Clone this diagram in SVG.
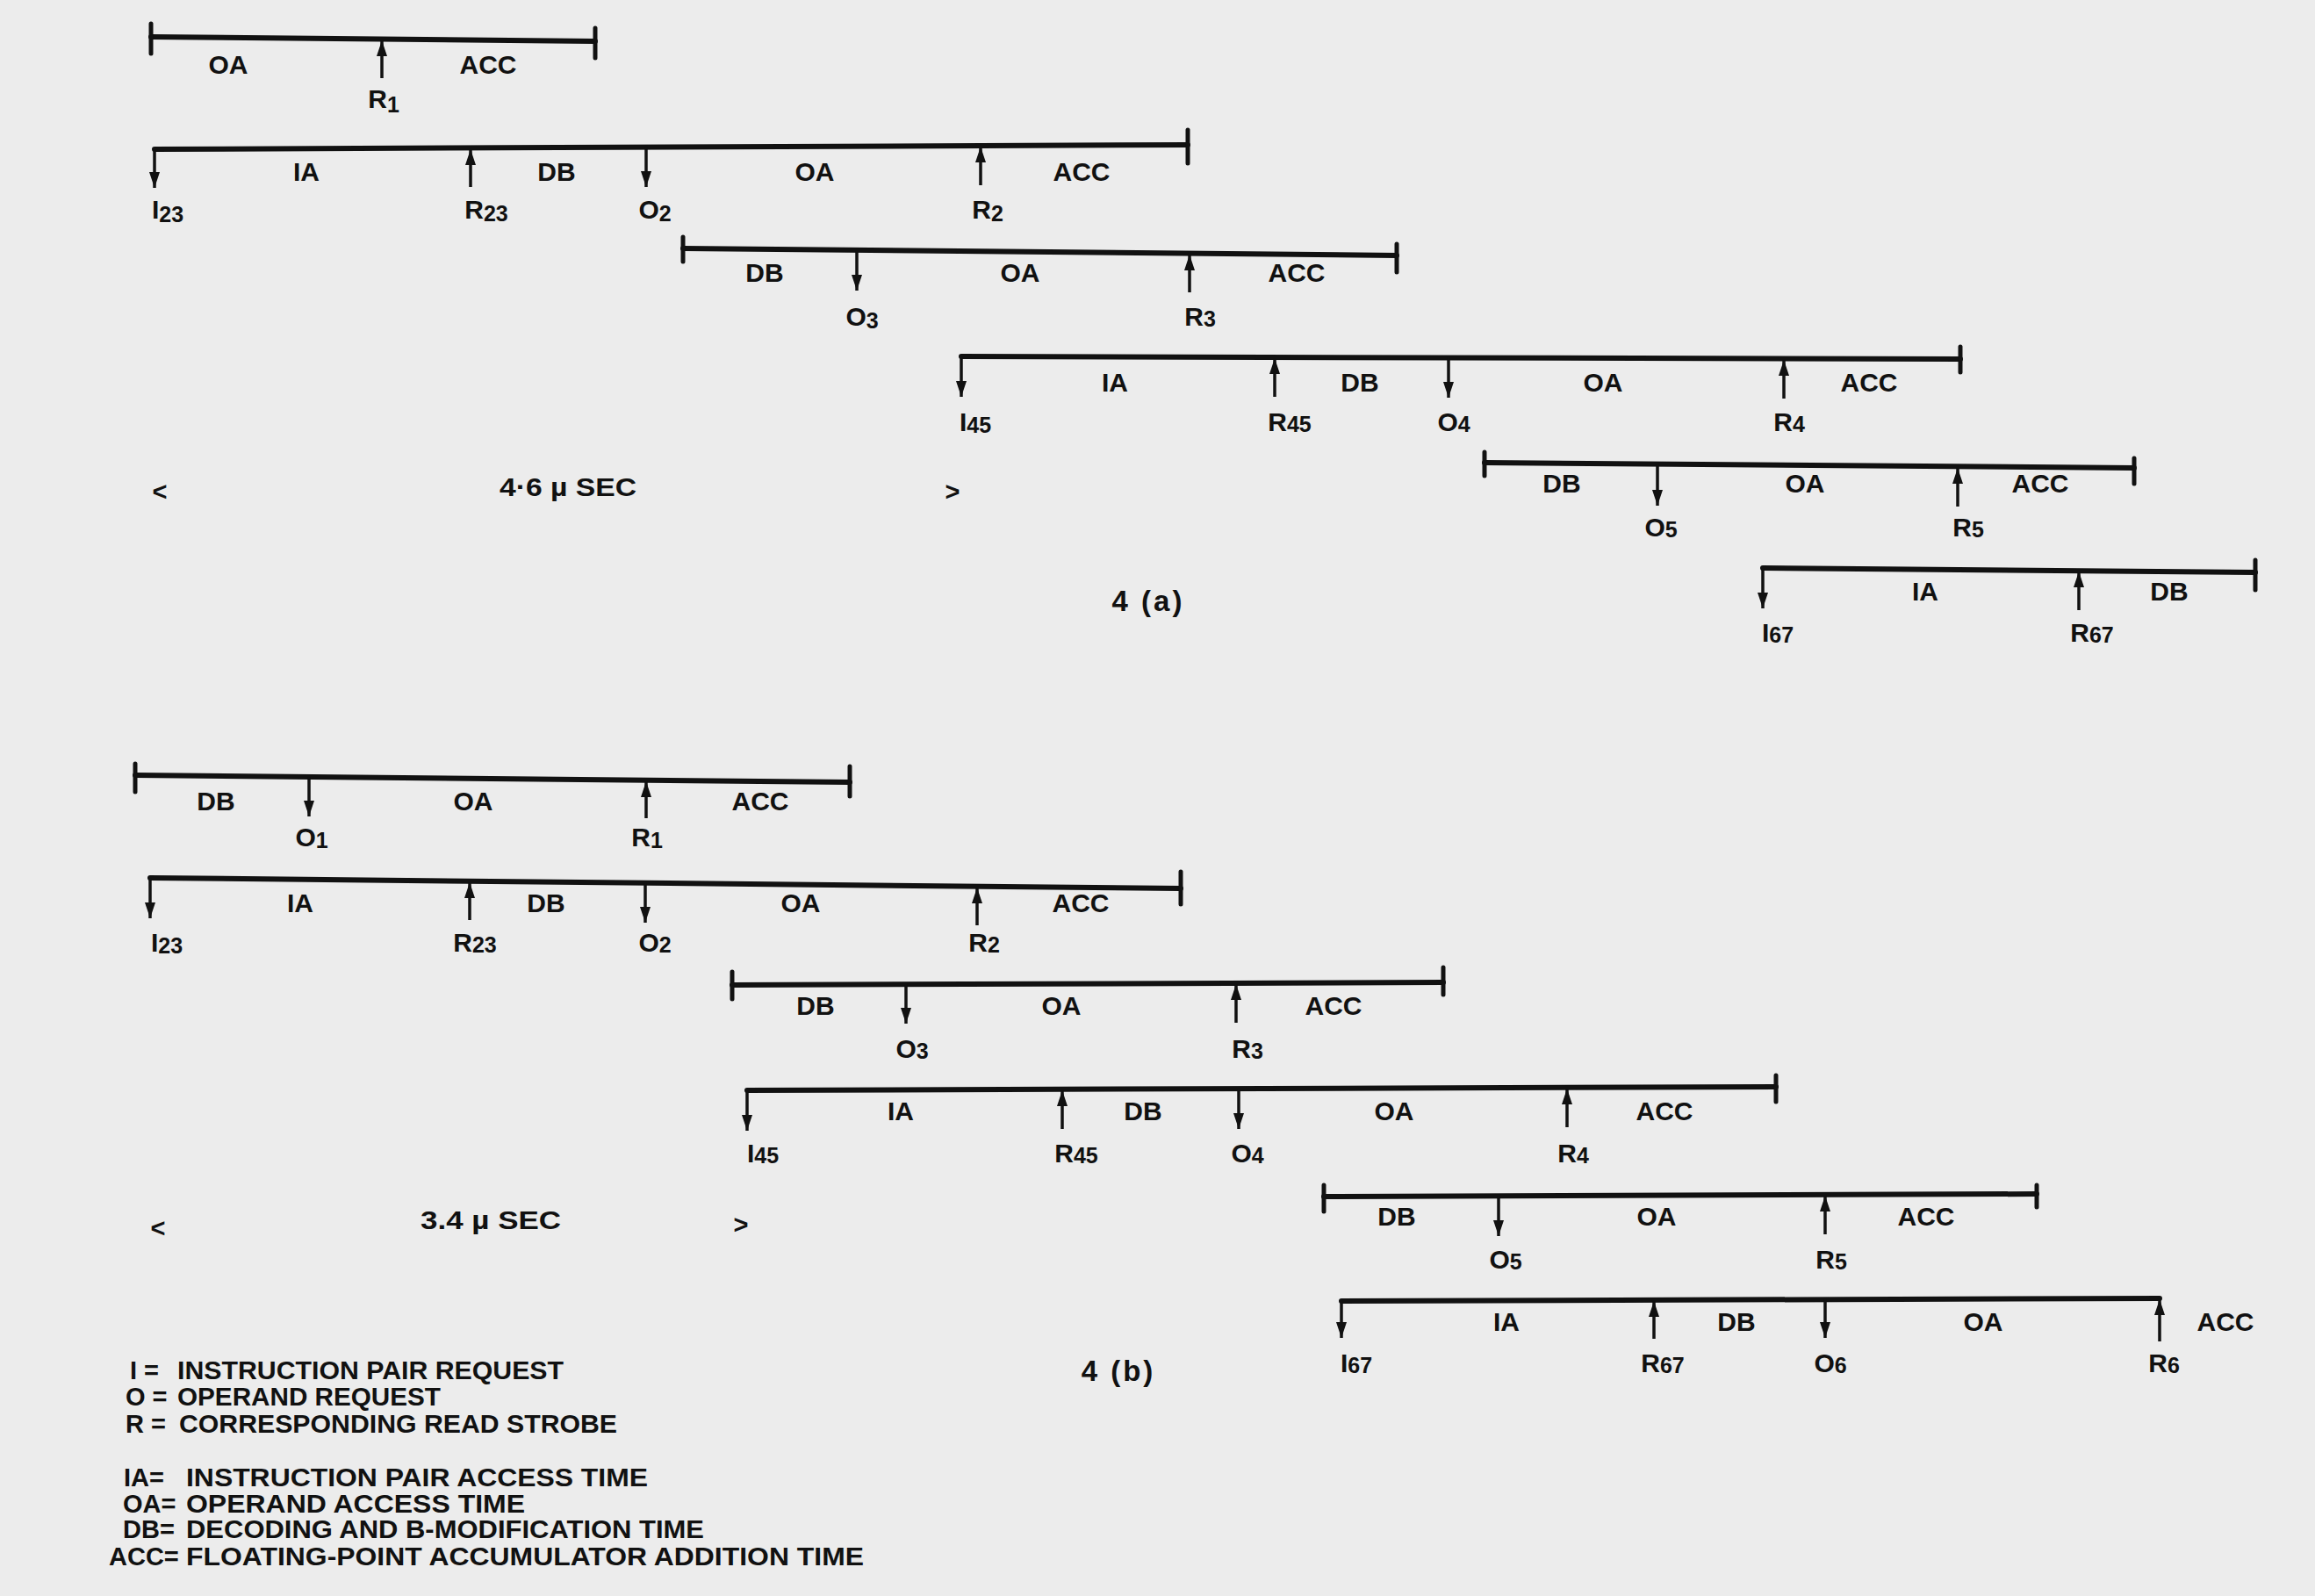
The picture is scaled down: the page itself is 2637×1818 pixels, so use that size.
<svg xmlns="http://www.w3.org/2000/svg" width="2637" height="1818" viewBox="0 0 2637 1818">
<defs>
<marker id="ah" markerUnits="userSpaceOnUse" markerWidth="20" markerHeight="14" refX="18" refY="6" orient="auto"><path d="M0,0 L18,6 L0,12 z" fill="#111"/></marker>
<style>
.bar{stroke:#111;stroke-width:6;fill:none;stroke-linecap:round}
.tick{stroke:#111;stroke-width:5;stroke-linecap:round}
.arr{stroke:#111;stroke-width:3.5;marker-end:url(#ah)}
text{font-family:"Liberation Sans",Arial,sans-serif;font-weight:bold;fill:#111}
.lbl{font-size:30px;text-anchor:middle}
.sub{font-size:25px}
.leg{font-size:29px}
.ttl{font-size:33px;text-anchor:middle;letter-spacing:3px}
.dim{font-size:29px}
</style>
</defs>
<rect x="0" y="0" width="2637" height="1818" fill="#ececec"/>

<!-- Figure 4(a) -->
<g id="a1">
<line class="bar" x1="172" y1="42" x2="678" y2="47"/>
<line class="tick" x1="172" y1="27" x2="172" y2="61"/>
<line class="tick" x1="678" y1="32" x2="678" y2="66"/>
<text class="lbl" x="260" y="84">OA</text>
<text class="lbl" x="556" y="84">ACC</text>
<text class="lbl" x="437" y="123">R<tspan class="sub" dy="5">1</tspan></text>
</g>
<g id="a2">
<line class="bar" x1="176" y1="170" x2="1353" y2="165"/>
<line class="tick" x1="1353" y1="148" x2="1353" y2="186"/>
<text class="lbl" x="349" y="206">IA</text>
<text class="lbl" x="634" y="206">DB</text>
<text class="lbl" x="928" y="206">OA</text>
<text class="lbl" x="1232" y="206">ACC</text>
<text class="lbl" x="191" y="249">I<tspan class="sub" dy="4">23</tspan></text>
<text class="lbl" x="554" y="249">R<tspan class="sub" dy="3">23</tspan></text>
<text class="lbl" x="746" y="249">O<tspan class="sub" dy="3">2</tspan></text>
<text class="lbl" x="1125" y="249">R<tspan class="sub" dy="3">2</tspan></text>
</g>
<g id="a3">
<line class="bar" x1="778" y1="283" x2="1591" y2="291"/>
<line class="tick" x1="778" y1="270" x2="778" y2="298"/>
<line class="tick" x1="1591" y1="278" x2="1591" y2="310"/>
<text class="lbl" x="871" y="321">DB</text>
<text class="lbl" x="1162" y="321">OA</text>
<text class="lbl" x="1477" y="321">ACC</text>
<text class="lbl" x="982" y="371">O<tspan class="sub" dy="3">3</tspan></text>
<text class="lbl" x="1367" y="371">R<tspan class="sub" dy="1">3</tspan></text>
</g>
<g id="a4">
<line class="bar" x1="1095" y1="406" x2="2233" y2="409"/>
<line class="tick" x1="2233" y1="395" x2="2233" y2="424"/>
<text class="lbl" x="1270" y="446">IA</text>
<text class="lbl" x="1549" y="446">DB</text>
<text class="lbl" x="1826" y="446">OA</text>
<text class="lbl" x="2129" y="446">ACC</text>
<text class="lbl" x="1111" y="491">I<tspan class="sub" dy="2">45</tspan></text>
<text class="lbl" x="1469" y="491">R<tspan class="sub" dy="1">45</tspan></text>
<text class="lbl" x="1656" y="491">O<tspan class="sub" dy="1">4</tspan></text>
<text class="lbl" x="2038" y="491">R<tspan class="sub" dy="1">4</tspan></text>
</g>
<g id="a5">
<line class="bar" x1="1691" y1="527" x2="2431" y2="533"/>
<line class="tick" x1="1691" y1="515" x2="1691" y2="542"/>
<line class="tick" x1="2431" y1="522" x2="2431" y2="551"/>
<text class="lbl" x="1779" y="561">DB</text>
<text class="lbl" x="2056" y="561">OA</text>
<text class="lbl" x="2324" y="561">ACC</text>
<text class="lbl" x="1892" y="611">O<tspan class="sub" dy="1">5</tspan></text>
<text class="lbl" x="2242" y="611">R<tspan class="sub" dy="1">5</tspan></text>
</g>
<g id="a6">
<line class="bar" x1="2008" y1="647" x2="2569" y2="652"/>
<line class="tick" x1="2569" y1="638" x2="2569" y2="672"/>
<text class="lbl" x="2193" y="684">IA</text>
<text class="lbl" x="2471" y="684">DB</text>
<text class="lbl" x="2025" y="731">I<tspan class="sub" dy="1">67</tspan></text>
<text class="lbl" x="2383" y="731">R<tspan class="sub" dy="1">67</tspan></text>
</g>
<g id="a-dim">
<text class="dim" x="182" y="570" text-anchor="middle">&lt;</text>
<text class="dim" x="569" y="565" textLength="156" lengthAdjust="spacingAndGlyphs">4·6 µ SEC</text>
<text class="dim" x="1085" y="570" text-anchor="middle">&gt;</text>
<text class="ttl" x="1308" y="696">4 (a)</text>
</g>

<!-- Figure 4(b) -->
<g id="b1">
<line class="bar" x1="154" y1="883" x2="968" y2="891"/>
<line class="tick" x1="154" y1="870" x2="154" y2="902"/>
<line class="tick" x1="968" y1="873" x2="968" y2="907"/>
<text class="lbl" x="246" y="923">DB</text>
<text class="lbl" x="539" y="923">OA</text>
<text class="lbl" x="866" y="923">ACC</text>
<text class="lbl" x="355" y="964">O<tspan class="sub" dy="2">1</tspan></text>
<text class="lbl" x="737" y="964">R<tspan class="sub" dy="2">1</tspan></text>
</g>
<g id="b2">
<line class="bar" x1="171" y1="1000" x2="1345" y2="1012"/>
<line class="tick" x1="1345" y1="993" x2="1345" y2="1030"/>
<text class="lbl" x="342" y="1039">IA</text>
<text class="lbl" x="622" y="1039">DB</text>
<text class="lbl" x="912" y="1039">OA</text>
<text class="lbl" x="1231" y="1039">ACC</text>
<text class="lbl" x="190" y="1084">I<tspan class="sub" dy="2">23</tspan></text>
<text class="lbl" x="541" y="1084">R<tspan class="sub" dy="1">23</tspan></text>
<text class="lbl" x="746" y="1084">O<tspan class="sub" dy="1">2</tspan></text>
<text class="lbl" x="1121" y="1084">R<tspan class="sub" dy="1">2</tspan></text>
</g>
<g id="b3">
<line class="bar" x1="834" y1="1122" x2="1644" y2="1119"/>
<line class="tick" x1="834" y1="1107" x2="834" y2="1138"/>
<line class="tick" x1="1644" y1="1102" x2="1644" y2="1133"/>
<text class="lbl" x="929" y="1156">DB</text>
<text class="lbl" x="1209" y="1156">OA</text>
<text class="lbl" x="1519" y="1156">ACC</text>
<text class="lbl" x="1039" y="1205">O<tspan class="sub" dy="1">3</tspan></text>
<text class="lbl" x="1421" y="1205">R<tspan class="sub" dy="1">3</tspan></text>
</g>
<g id="b4">
<line class="bar" x1="851" y1="1242" x2="2023" y2="1238"/>
<line class="tick" x1="2023" y1="1225" x2="2023" y2="1255"/>
<text class="lbl" x="1026" y="1276">IA</text>
<text class="lbl" x="1302" y="1276">DB</text>
<text class="lbl" x="1588" y="1276">OA</text>
<text class="lbl" x="1896" y="1276">ACC</text>
<text class="lbl" x="869" y="1324">I<tspan class="sub" dy="1">45</tspan></text>
<text class="lbl" x="1226" y="1324">R<tspan class="sub" dy="1">45</tspan></text>
<text class="lbl" x="1421" y="1324">O<tspan class="sub" dy="1">4</tspan></text>
<text class="lbl" x="1792" y="1324">R<tspan class="sub" dy="1">4</tspan></text>
</g>
<g id="b5">
<line class="bar" x1="1508" y1="1363" x2="2320" y2="1360"/>
<line class="tick" x1="1508" y1="1350" x2="1508" y2="1380"/>
<line class="tick" x1="2320" y1="1350" x2="2320" y2="1375"/>
<text class="lbl" x="1591" y="1396">DB</text>
<text class="lbl" x="1887" y="1396">OA</text>
<text class="lbl" x="2194" y="1396">ACC</text>
<text class="lbl" x="1715" y="1445">O<tspan class="sub" dy="1">5</tspan></text>
<text class="lbl" x="2086" y="1445">R<tspan class="sub" dy="1">5</tspan></text>
</g>
<g id="b6">
<line class="bar" x1="1528" y1="1482" x2="2460" y2="1479"/>
<text class="lbl" x="1716" y="1516">IA</text>
<text class="lbl" x="1978" y="1516">DB</text>
<text class="lbl" x="2259" y="1516">OA</text>
<text class="lbl" x="2535" y="1516">ACC</text>
<text class="lbl" x="1545" y="1563">I<tspan class="sub" dy="1">67</tspan></text>
<text class="lbl" x="1894" y="1563">R<tspan class="sub" dy="1">67</tspan></text>
<text class="lbl" x="2085" y="1563">O<tspan class="sub" dy="1">6</tspan></text>
<text class="lbl" x="2465" y="1563">R<tspan class="sub" dy="1">6</tspan></text>
</g>
<g id="b-dim">
<text class="dim" x="180" y="1409" text-anchor="middle">&lt;</text>
<text class="dim" x="479" y="1400" textLength="160" lengthAdjust="spacingAndGlyphs">3.4 µ SEC</text>
<text class="dim" x="844" y="1405" text-anchor="middle">&gt;</text>
<text class="ttl" x="1274" y="1573">4 (b)</text>
</g>

<!-- Legend -->
<g id="legend">
<text class="leg" x="148" y="1571">I =</text>
<text class="leg" x="202" y="1571" textLength="440" lengthAdjust="spacingAndGlyphs">INSTRUCTION PAIR REQUEST</text>
<text class="leg" x="143" y="1601">O =</text>
<text class="leg" x="202" y="1601" textLength="300" lengthAdjust="spacingAndGlyphs">OPERAND REQUEST</text>
<text class="leg" x="143" y="1632">R =</text>
<text class="leg" x="204" y="1632" textLength="499" lengthAdjust="spacingAndGlyphs">CORRESPONDING  READ  STROBE</text>
<text class="leg" x="141" y="1693">IA=</text>
<text class="leg" x="212" y="1693" textLength="526" lengthAdjust="spacingAndGlyphs">INSTRUCTION PAIR ACCESS TIME</text>
<text class="leg" x="140" y="1723">OA=</text>
<text class="leg" x="212" y="1723" textLength="386" lengthAdjust="spacingAndGlyphs">OPERAND ACCESS  TIME</text>
<text class="leg" x="140" y="1752">DB=</text>
<text class="leg" x="212" y="1752" textLength="590" lengthAdjust="spacingAndGlyphs">DECODING AND  B-MODIFICATION TIME</text>
<text class="leg" x="124" y="1783">ACC=</text>
<text class="leg" x="212" y="1783" textLength="772" lengthAdjust="spacingAndGlyphs">FLOATING-POINT ACCUMULATOR ADDITION TIME</text>
</g>

<!-- Arrows (request / read strobe markers) -->
<g id="connectors">
<line class="arr" x1="435" y1="89" x2="435" y2="46"/>
<line class="arr" x1="176" y1="170" x2="176" y2="214"/>
<line class="arr" x1="536" y1="213" x2="536" y2="170"/>
<line class="arr" x1="736" y1="168" x2="736" y2="213"/>
<line class="arr" x1="1117" y1="211" x2="1117" y2="167"/>
<line class="arr" x1="976" y1="285" x2="976" y2="331"/>
<line class="arr" x1="1355" y1="333" x2="1355" y2="290"/>
<line class="arr" x1="1095" y1="406" x2="1095" y2="452"/>
<line class="arr" x1="1452" y1="452" x2="1452" y2="408"/>
<line class="arr" x1="1650" y1="407" x2="1650" y2="453"/>
<line class="arr" x1="2032" y1="454" x2="2032" y2="410"/>
<line class="arr" x1="1888" y1="529" x2="1888" y2="576"/>
<line class="arr" x1="2230" y1="577" x2="2230" y2="533"/>
<line class="arr" x1="2008" y1="647" x2="2008" y2="693"/>
<line class="arr" x1="2368" y1="695" x2="2368" y2="651"/>
<line class="arr" x1="352" y1="885" x2="352" y2="930"/>
<line class="arr" x1="736" y1="932" x2="736" y2="890"/>
<line class="arr" x1="171" y1="1000" x2="171" y2="1046"/>
<line class="arr" x1="535" y1="1048" x2="535" y2="1005"/>
<line class="arr" x1="735" y1="1006" x2="735" y2="1051"/>
<line class="arr" x1="1113" y1="1054" x2="1113" y2="1011"/>
<line class="arr" x1="1032" y1="1121" x2="1032" y2="1166"/>
<line class="arr" x1="1408" y1="1165" x2="1408" y2="1121"/>
<line class="arr" x1="851" y1="1242" x2="851" y2="1288"/>
<line class="arr" x1="1210" y1="1286" x2="1210" y2="1242"/>
<line class="arr" x1="1411" y1="1240" x2="1411" y2="1286"/>
<line class="arr" x1="1785" y1="1284" x2="1785" y2="1240"/>
<line class="arr" x1="1707" y1="1362" x2="1707" y2="1408"/>
<line class="arr" x1="2079" y1="1406" x2="2079" y2="1362"/>
<line class="arr" x1="1528" y1="1482" x2="1528" y2="1524"/>
<line class="arr" x1="1884" y1="1525" x2="1884" y2="1482"/>
<line class="arr" x1="2079" y1="1480" x2="2079" y2="1524"/>
<line class="arr" x1="2460" y1="1528" x2="2460" y2="1480"/>
</g>
</svg>
